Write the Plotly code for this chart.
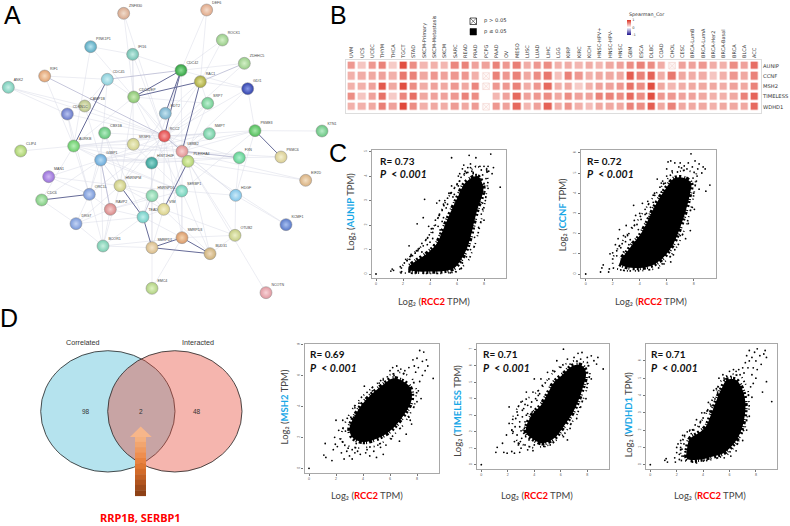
import plotly.graph_objects as go

W, H = 790, 526
def fx(p): return p / W
def fy(p): return 1 - p / H

# ---------- A: network ----------
NODE_NAMES = ["ZNF830","DEF6","ROCK1","PINK1P1","IFI16","CDC42","ZDHHC5","RIF1","CDC45","RAC1","GDI1","ANK2","CDC42EP","CAMP1B","CDKN1C","SRP7","EDT2","RCC2","PSME3","KTN1","NMPT","CBX1B","SRSF9","AURKB","CLIP4","LBRB2","HIST1H4F","PLEKHA4","FXN","PSMC6","G3BP1","MAN1","EIF2D","HNRNPM","SERBP1","HNRNPD1","HDGF","ORC1L","CDC6","RAVP2","VIM","TEAD","DRG7","KCMF1","OTUB2","BCOR1","SMRPD3","SMRPD1","BUD31","EMC4","NCOTN"]
NODE_X = [371,620,667,272,398,543,733,134,322,601,743,25,401,254,202,623,496,493,765,966,628,314,400,221,62,546,455,564,718,843,302,146,917,360,545,456,707,268,125,331,491,429,228,858,705,309,546,456,630,456,798]
NODE_Y = [40,30,120,140,163,211,190,228,238,245,266,262,291,318,342,310,340,408,392,393,401,399,433,438,453,454,489,484,473,471,480,530,541,557,573,587,586,583,600,628,628,651,671,674,706,738,713,743,761,865,878]
NODE_COLORS = ["#D8A88C","#E0A888","#98CC88","#58A8C0","#70C0B0","#30A040","#98CC88","#E0A070","#88CCD8","#A8A840","#3040A8","#78CCB8","#88C470","#B8C488","#6878C8","#70CC90","#78B0CC","#E04848","#50BC58","#68C480","#70CCA0","#60C478","#D0D088","#68CC68","#A8D070","#E09090","#38A098","#B0D070","#60D090","#D8CC90","#68A8D8","#9870D8","#D8B080","#CCCC80","#70D0B8","#80D0A8","#80C4E8","#7898D8","#80CC80","#D88888","#D8D088","#70CCC4","#7898D8","#5878C8","#C4CC80","#78CCB0","#D89868","#D8BC88","#CCB078","#B0D080","#E098A0"]
NODE_SHINE = ["#F0DCCC","#F4DCCC","#D4F0C8","#B8E4F0","#C4ECE4","#90E098","#D4F0C8","#F8DCC0","#CCF0F4","#E4E498","#8898E8","#C8F0E8","#CCECB8","#E8ECCC","#B8C4F0","#C0F0D4","#C4E4F0","#F8A0A0","#A8E8AC","#B8ECC8","#C0F0DC","#B4ECC4","#F0F0CC","#B8F0B8","#E0F4B8","#F8D0D0","#90D8D0","#E4F4B8","#B0F0D0","#F4F0D0","#B8DCF4","#D0B8F4","#F4E0C4","#F0F0C8","#C0F0E4","#CCF4DC","#CCEAF8","#C4D4F4","#C8F0C8","#F4CCCC","#F4F0CC","#C0F0EC","#C4D4F4","#A8C0F0","#ECF0C8","#C8F0E0","#F4D4B0","#F4E4CC","#F0DCC0","#E0F4C4","#F8D4D8"]
EDGES_THIN = ["ZNF830-CDC42EP","ZNF830-RCC2","DEF6-CDC42","DEF6-RAC1","ROCK1-CDC42","ROCK1-RAC1","PINK1P1-IFI16","PINK1P1-AURKB","PINK1P1-CDC42EP","IFI16-CDC42","IFI16-SRSF9","IFI16-RCC2","IFI16-CDC42EP","ZDHHC5-CDC42","ZDHHC5-RCC2","RIF1-AURKB","CDC45-CAMP1B","CDC45-G3BP1","CDC45-CDC42EP","GDI1-CDC42","GDI1-RAC1","GDI1-PSME3","GDI1-RCC2","GDI1-LBRB2","ANK2-RCC2","ANK2-CAMP1B","CDC42EP-RCC2","CDC42EP-AURKB","CDC42EP-SERBP1","CDC42EP-LBRB2","CDC42EP-HNRNPM","CAMP1B-RCC2","CAMP1B-G3BP1","CDKN1C-RCC2","CDKN1C-ORC1L","CDKN1C-AURKB","SRP7-VIM","SRP7-HIST1H4F","EDT2-HNRNPM","EDT2-SERBP1","RCC2-PSME3","RCC2-NMPT","RCC2-AURKB","RCC2-G3BP1","RCC2-HNRNPM","RCC2-SMRPD3","RCC2-VIM","RCC2-FXN","RCC2-ORC1L","RCC2-TEAD","RCC2-HDGF","RCC2-CBX1B","PSME3-KTN1","PSME3-HDGF","PSME3-G3BP1","PSME3-LBRB2","PSME3-SERBP1","NMPT-LBRB2","NMPT-AURKB","NMPT-G3BP1","CBX1B-TEAD","CBX1B-ORC1L","CBX1B-HNRNPM","SRSF9-SERBP1","SRSF9-AURKB","SRSF9-FXN","AURKB-CLIP4","AURKB-G3BP1","AURKB-LBRB2","AURKB-ORC1L","AURKB-SERBP1","AURKB-HIST1H4F","LBRB2-PSMC6","LBRB2-EIF2D","LBRB2-HDGF","LBRB2-SMRPD3","HIST1H4F-FXN","HIST1H4F-SMRPD1","HIST1H4F-HNRNPD1","HIST1H4F-G3BP1","PLEKHA4-EIF2D","PLEKHA4-BUD31","PLEKHA4-NCOTN","PLEKHA4-KCMF1","PLEKHA4-G3BP1","PLEKHA4-OTUB2","FXN-PSMC6","FXN-HDGF","FXN-G3BP1","G3BP1-HNRNPM","G3BP1-ORC1L","G3BP1-RAVP2","G3BP1-BCOR1","G3BP1-SERBP1","G3BP1-MAN1","G3BP1-TEAD","MAN1-ORC1L","MAN1-HNRNPM","HNRNPM-HNRNPD1","HNRNPM-SERBP1","HNRNPM-VIM","HNRNPM-DRG7","HNRNPM-BCOR1","SERBP1-HDGF","SERBP1-VIM","SERBP1-BUD31","SERBP1-RAVP2","SERBP1-SMRPD3","HNRNPD1-VIM","HNRNPD1-SMRPD1","HNRNPD1-RAVP2","HDGF-KCMF1","HDGF-OTUB2","ORC1L-RAVP2","ORC1L-DRG7","ORC1L-BCOR1","RAVP2-DRG7","RAVP2-TEAD","RAVP2-BCOR1","VIM-SMRPD1","VIM-BUD31","VIM-OTUB2","VIM-TEAD","TEAD-BCOR1","TEAD-DRG7","TEAD-SMRPD3","DRG7-BCOR1","BCOR1-SMRPD1","BCOR1-SMRPD3","SMRPD1-EMC4","SMRPD3-EMC4","SMRPD3-OTUB2","OTUB2-BUD31","CDC6-AURKB","CDC6-DRG7","CDC6-G3BP1","RIF1-CDC45","ANK2-CDKN1C","CDC42-LBRB2","RAC1-RCC2","RAC1-EDT2","RAC1-SRP7","SRP7-RCC2","SRP7-CDC42EP","CDC42-HIST1H4F"]
EDGES_MID = ["RIF1-RCC2","ZDHHC5-RAC1","RCC2-LBRB2","LBRB2-FXN","G3BP1-RAVP2","CDC42-CDC45","HNRNPD1-TEAD"]
EDGES_THICK = ["CDC45-AURKB","CDC42-CDC42EP","RAC1-CDC42EP","CDC42-EDT2","CDC42-RCC2","RAC1-LBRB2","CDC6-ORC1L","PSME3-PSMC6","HNRNPM-TEAD","TEAD-SMRPD1","SMRPD1-SMRPD3","SMRPD1-BUD31","SMRPD3-BUD31","PLEKHA4-VIM"]

# ---------- B: heatmap ----------
CANCERS = ["UVM","UCS","UCEC","THYM","THCA","TGCT","STAD","SKCM-Primary","SKCM-Metastasis","SKCM","SARC","READ","PRAD","PCPG","PAAD","OV","MESO","LUSC","LUAD","LIHC","LGG","KIRP","KIRC","KICH","HNSC-HPV+","HNSC-HPV-","HNSC","GBM","ESCA","DLBC","COAD","CHOL","CESC","BRCA-LumB","BRCA-LumA","BRCA-Her2","BRCA-Basal","BRCA","BLCA","ACC"]
GENES = ["AUNIP","CCNF","MSH2","TIMELESS","WDHD1"]
AUNIP_COR = [.5,.28,.5,.6,.25,.85,.55,.35,.38,.35,.58,.6,.45,.45,.6,.5,.62,.4,.5,.55,.38,.4,.35,.4,.35,.42,.45,.55,.6,.55,.4,.05,.45,.45,.5,.4,.38,.55,.45,.7]
CCNF_COR = [.38,.4,.42,.45,.38,.65,.6,.42,.5,.45,.5,.5,.38,.03,.6,.5,.6,.42,.55,.65,.3,.6,.5,.38,.42,.42,.42,.78,.6,.75,.4,.65,.42,.4,.4,.28,.38,.5,.42,.6]
MSH2_COR = [.38,.38,.45,.8,.42,.85,.55,.4,.45,.42,.5,.42,.58,.03,.5,.5,.6,.4,.5,.72,.38,.42,.25,.38,.45,.45,.5,.68,.55,.85,.42,.35,.4,.42,.42,.42,.4,.45,.42,.6]
TIMELESS_COR = [.55,.28,.45,.68,.25,.58,.7,.42,.45,.45,.5,.6,.55,0,.35,.45,.72,.45,.5,.55,.42,.55,.45,.45,.6,.6,.55,.72,.55,.85,.5,.5,.45,.45,.42,.38,.38,.42,.6,.75]
WDHD1_COR = [.38,.38,.42,.62,.45,.88,.55,.38,.42,.4,.48,.42,.48,.03,.5,.45,.72,.35,.45,.75,.4,.52,.38,.32,.42,.42,.42,.6,.55,.78,.42,.6,.42,.42,.42,.38,.42,.42,.42,.72]
NONSIG_COL = ["CHOL","PCPG","PCPG","PCPG"]
NONSIG_ROW = ["AUNIP","CCNF","MSH2","WDHD1"]

# ---------- C/D: scatter panels: outline of the solid cloud, outline of the loose rim, and single points ----------
AUNIP_ENV_X = [2.4,3,4,5,5.8,6.2,6.7,7,7.3,7.6,7.75,7.95,7.5,7,6.5,6.1,5.5,5,4.5,3.8,3,2.4]
AUNIP_ENV_Y = [.15,.1,.1,.12,.25,.5,1,1.5,2.2,2.8,3,3.55,4,3.9,3.65,3.2,2.5,1.85,1.25,.85,.55,.3]
AUNIP_OUT_X = [1.8,3,5,6.1,6.9,7.4,7.8,8.1,8.3,8.2,7.4,6.6,5.9,5.2,4.6,4,3.3,2.5,1.9,1.8]
AUNIP_OUT_Y = [.05,.02,.02,.1,.6,1.3,2.2,3,3.8,4.3,4.4,4.1,3.6,3,2.3,1.6,1.1,.7,.3,.05]
AUNIP_X = [0,1.1,1.2,1.3,1.8,1.9,2.1,2.3,2.5,2.7,2.9,3.1,3.3,3.4,2.45,3.05,3.5,3.6,3.9,3.95,4,4.2,4.3,4.4,4.5,4.6,4.75,4.7,4.9,5,5.1,5.2,5.4,5.6,5.6,5.8,6.1,6.1,6.2,6.2,6.4,6.5,6.55,6.9,6.8,7,7.1,7.2,7.4,7.4,7.7,7.8,7.9,8,8.2,8.3,8.35,8.5,8.6,8.7,8,7.95,7.9,7.8,8.1,8.3,9.2,7.6,7.3,7,6.7,6.4,6.2,5.9,5.5,8,7.7,2.2,2.6,3.2,3.5,3.7,4.1,4.4,4.7,5,5.3,5.5,5.8,6,6.3,6.6,6.8,7,7.2,7.5,7.9,8.05,8.15,5.7,5.3,4.9,4.6,4.2,3.8,3.4,3,2.6,2.3]
AUNIP_Y = [0,.12,.2,.15,.3,.1,.45,.55,.6,.75,.85,.95,.7,.9,1.15,2.05,2.3,3.05,1.95,1.6,1.3,1.7,1.2,2,2.9,2.3,1.8,3,2.6,2.3,3,2.7,3.3,3.6,4.75,3.5,4,3.6,3.8,4.1,4.3,4.45,4.1,4.85,4.35,4.5,4.2,4.15,4.05,4.75,4.4,4.25,4.05,4.4,4.25,4.4,4.2,4.9,4.1,4.35,3.7,3.3,2.9,2.45,3,3.5,3.55,1.9,1.5,1,.7,.45,.2,.1,.05,2.2,3.9,.6,.8,1.05,1.15,1.4,1.85,2.2,2.45,2.85,3.1,3.3,3.25,3.65,3.95,4.2,4.15,4.35,4.1,3.3,2.65,3.35,3.9,3.15,2.85,2.15,1.95,1.45,1.2,1.25,.95,.75,.55]

CCNF_ENV_X = [2.5,3,4,5,5.8,6.5,7,7.4,7.7,7.8,7.3,6.6,6,5.5,5,4.5,4,3.5,3,2.6]
CCNF_ENV_Y = [.5,.35,.3,.45,.85,1.5,2.3,3.1,3.9,4.5,4.75,4.75,4.3,3.8,3.2,2.5,1.9,1.5,1.05,.75]
CCNF_OUT_X = [2,3,4,5.2,6.2,6.9,7.5,7.9,8.1,8.2,7.4,6.4,5.7,5,4.3,3.6,2.9,2.4,2,2]
CCNF_OUT_Y = [.3,.15,.15,.25,.8,1.5,2.5,3.5,4.3,5,5.15,5,4.4,3.8,3.1,2.4,1.8,1.3,.8,.3]
CCNF_X = [0,1.1,1.2,1.3,1.7,1.75,1.8,2,2.2,2.4,2.5,2.6,2.8,2.95,3,3.2,3.4,3.6,3.55,3.7,4,4.2,4.4,4.6,4.8,5,5.1,5.3,5.5,5.7,6,6,6.1,6.3,6.6,6.9,7,7.3,7.6,7.8,7.9,8.1,8.3,8.4,8.6,8.7,8.85,8.2,8.4,8.9,9.2,8,7.9,7.6,7.4,7,6.6,6.5,6.3,5.8,5.4,2.6,3.3,2.3,2.7,3.1,3.3,3.8,4.1,4.5,4.7,5.2,5.6,5.9,6.4,6.8,7.1,7.5,7.95,8.05,8.25,7.75,5.6,5,4.4,3.9,3.2,2.8,2.3]
CCNF_Y = [0,.1,.3,.45,.1,.25,1,1.05,1.45,1.75,2.2,1.3,1.9,1.6,2.4,2,2.3,2.65,3.4,2.9,3,3.5,3.2,3.6,3.3,3.9,4,4.7,4.3,4.6,4.85,5.2,5.55,5.6,5.5,5.3,5.5,5.35,5.5,5.95,5.3,5.6,5.2,5.45,5,5.3,5.2,4.6,4.2,4.1,4.4,4,3.3,2.5,1.75,1.9,1.2,.95,.6,.5,.3,.2,.15,1.15,1.5,1.9,1.7,2.45,2.7,3,2.85,3.6,4.05,4.5,5.1,5.05,5.25,5.2,4.75,3.2,4.85,2.15,4.5,3.55,2.95,2.2,1.45,1.1,.9]

MSH2_ENV_X = [3.2,4,5,6,7,7.6,7.5,7,6.2,5.5,4.8,4,3.4,3,3.2]
MSH2_ENV_Y = [2,1.7,1.9,2.4,3.4,4.4,5.2,5.6,5.8,5.4,4.9,4.2,3.4,2.6,2]
MSH2_OUT_X = [2.6,3.6,4.8,6,7,7.8,8,7.6,6.8,5.8,4.8,3.9,3.1,2.6,2.3,2.6]
MSH2_OUT_Y = [1.5,1.3,1.4,1.9,2.8,4,5,5.9,6.2,6,5.3,4.6,3.7,2.8,2,1.5]
MSH2_X = [0,1.1,1.25,1.2,1.7,1.8,1.95,1.9,2,2.2,2.3,2.4,2.5,2.6,2.9,3,3.2,3.2,3.4,3.6,3.7,3.8,4.1,4.3,4.3,4.5,4.6,5,5.1,5.5,5.5,6,6.1,6.3,6.5,6.8,7,7.2,7.4,7.5,7.7,7.9,8,8.1,8.2,8.4,8.5,8.6,8.7,8.8,8.3,8.1,9.2,8.4,2.1,2.5,2.8,2.7,3.3,3.5,3.9,4.2,4.5,4.8,5.2,5.7,6.2,6.7,7.1,7.6,7.8,8.2,8,7.4,6.6,5.8,5.3,4.7,3.4,3.1]
MSH2_Y = [0,.85,.7,1.6,.5,1.2,1.55,2,3.1,2.45,1.9,1,3.1,.6,1.3,.8,.6,1.2,3.9,1.1,4.2,.9,5.3,4.9,1.2,.8,4.7,.7,1.5,.9,5.7,6.3,1.9,6,6.6,6.4,6.1,2.2,6.5,3.1,7,6.2,7.1,6.5,7.6,6.9,7.5,6.3,7,6.6,4.5,5,5.8,6,1.4,1.7,1.1,2.4,3.3,1.6,4,1,4.4,1.1,5.5,1.5,6.5,1.75,6.3,2.85,6.6,5.6,4.3,3.3,6.3,5.9,1.35,5,1,3.3]

TIMELESS_ENV_X = [3.8,4.6,5.5,6.2,7,7.6,7.9,7.6,6.9,6.2,5.5,5,4.5,3.9,3.4,3.4,3.8]
TIMELESS_ENV_Y = [1.6,1.3,1.6,2.3,3.3,4.5,5.6,6,6,5.5,5,4.3,3.6,3.1,2.3,1.9,1.6]
TIMELESS_OUT_X = [2.8,4,5.2,6.3,7.2,7.9,8.2,8,7,6,5.2,4.6,3.9,3,2.4,2.3,2.8]
TIMELESS_OUT_Y = [1.3,1,1.2,1.9,3,4.4,5.5,6.2,6.3,6,5.4,4.7,4.2,3.8,3,2,1.3]
TIMELESS_X = [0,1.1,1.2,1.7,1.95,2.3,2.5,2.9,3,3.5,3.9,1.6,1.9,2.1,2.1,2.4,2.5,2.6,2.7,2.8,2.9,3,3.05,3.1,3.2,3.2,3.3,3.4,3.4,3.5,3.6,3.7,3.8,3.9,4,4.1,4,4.3,4.5,4.6,4.8,5,5.1,5.2,5.4,5.7,6,6.2,6.5,6.7,7,7.3,7.5,7.6,8,8.1,8.3,8.5,8.7,8.8,8.3,8,9.2,7.9,7.5,7.2,6.7,6.2,6.5,2.7,2.9,3.1,3.3,3.35,3.55,3.7,3.85,2.55,2.75,3,3.25,3.5,3.75,4.2,4.4,3.3,3.15,2.95]
TIMELESS_Y = [0,.75,1.05,.75,.7,.8,.7,.75,1,.9,.85,1.3,1.8,2.5,3.5,2,1.4,2.8,3.2,1.2,2.3,3.8,1.6,2.9,1.9,3.4,1.2,4.4,3,3.6,1.5,2.8,3.8,4.4,1.2,4,5.2,4.2,5.2,4.8,1.1,5.6,5.2,1.2,5.7,6.3,5.9,7,6.4,6.1,6.5,6.75,6.4,6.8,6.5,6,6.6,6.3,6.1,6.5,5.2,4.9,5.8,4,3.5,2.8,2.2,1.7,1.5,1.8,2.6,3.3,2.6,1.7,2.5,1.9,3.2,2.3,3,2.05,2.2,3.1,3.5,3.9,4.3,3.65,2.1,1.4]

WDHD1_ENV_X = [2.8,3.8,4.6,5.5,6.2,6.8,7.15,7.2,7,6.5,5.8,5.4,5,4.6,4.2,3.6,3,2.8,2.8]
WDHD1_ENV_Y = [.35,.3,.45,.65,1.1,1.8,2.8,3.6,4.3,4.9,4.9,4.4,3.7,2.9,2.2,1.8,1.5,1,.35]
WDHD1_OUT_X = [2.3,3.5,4.7,5.8,6.6,7.2,7.5,7.4,6.9,6,5.3,4.7,4.2,3.5,2.8,2.3,2.3]
WDHD1_OUT_Y = [.25,.15,.3,.55,1.2,2.2,3.3,4.4,5.1,5.3,4.8,3.8,2.9,2.1,1.9,1.2,.25]
WDHD1_X = [0,1.1,1.2,1.3,1.9,2,1.85,2,2.2,2.1,2.3,2.4,2.5,2.6,2.8,3,3.3,3.5,3.8,3.9,4,4.3,4.4,4.6,4.8,5,5.2,5.5,5.8,6,6.1,6.5,6.8,7,7.2,7.3,7.5,7.5,7.7,7.8,7.9,8,8.1,8.1,8.3,8.4,8.6,8.7,8.8,8.8,8.5,9.2,7.6,7.7,7.5,7.3,7,6.5,6.1,5.6,3.2,3.5,2.2,2.4,2.55,2.65,2.3,2.45,3.1,3.4,3.7,4.1,4.5,4.9,5.1,5.6,6.3,6.7,7.1,7.4,7.7,8,7.8]
WDHD1_Y = [0,.25,.35,.15,.15,.7,.4,1,.3,1.2,1.4,.9,.5,1.7,1.9,2,2,2.6,2.5,3,2.7,3.1,3.6,3.4,4.3,4.4,5,5.2,5.1,5.4,5.1,5.4,5.2,5.6,5.9,6.3,6,6.6,6.2,5.6,6.5,6,5.5,6.7,6.3,5.8,6.4,6.6,6.2,4.8,4.2,3.65,4.5,3.9,2.8,2,1.4,.8,.5,.4,.15,.1,.6,.5,1.2,.75,1,1.7,1.8,2.3,2.2,3,3.1,3.8,4.2,4.9,5.5,5.5,5.3,5.6,5.2,5,4.7]

VENN_LABELS = ["Correlated", "Interacted"]
VENN_COUNTS = [98, 2, 48]

fig = go.Figure()
annots, shapes = [], []

def text(x, y, s, size, color="#222", family="Liberation Sans", angle=0, xanchor="center"):
    annots.append(dict(x=fx(x), y=fy(y), xref="paper", yref="paper", text=s, showarrow=False,
                       font=dict(size=size, color=color, family=family), textangle=angle,
                       xanchor=xanchor, yanchor="middle"))

# ---- network ----
idx = {n: i for i, n in enumerate(NODE_NAMES)}
def edge_xy(edges):
    xs, ys = [], []
    for e in edges:
        a, b = e.split("-")
        xs += [NODE_X[idx[a]], NODE_X[idx[b]], None]
        ys += [NODE_Y[idx[a]], NODE_Y[idx[b]], None]
    return xs, ys
for edges, col, w in [(EDGES_THIN, "#D9DAE6", 0.5), (EDGES_MID, "#ADAFCB", 0.7), (EDGES_THICK, "#666B98", 1.0)]:
    ex, ey = edge_xy(edges)
    fig.add_trace(go.Scatter(x=ex, y=ey, mode="lines", line=dict(color=col, width=w),
                             hoverinfo="skip", showlegend=False, xaxis="x", yaxis="y"))
fig.add_trace(go.Scatter(x=NODE_X, y=NODE_Y, mode="markers",
                         marker=dict(size=12, color=NODE_COLORS, line=dict(color="#8A8A8A", width=0.5),
                                     gradient=dict(type="radial", color=NODE_SHINE)),
                         showlegend=False, xaxis="x", yaxis="y", cliponaxis=False))
fig.add_trace(go.Scatter(x=NODE_X, y=NODE_Y, mode="markers+text", text=NODE_NAMES,
                         textposition="top right", textfont=dict(size=3.6, color="#444", family="Liberation Sans"),
                         marker=dict(size=7, opacity=0), hoverinfo="skip",
                         showlegend=False, xaxis="x", yaxis="y", cliponaxis=False))

# ---- heatmap ----
HM_L, HM_R, HM_T, HM_B = 346, 761, 60, 113
z = [AUNIP_COR, CCNF_COR, MSH2_COR, TIMELESS_COR, WDHD1_COR]
fig.add_trace(go.Heatmap(z=z, x=list(range(len(CANCERS))), y=list(range(len(GENES))),
                         zmin=-1, zmax=1, xgap=2.8, ygap=2.8,
                         colorscale=[[0, "#1A0F8C"], [0.5, "#FFFFFF"], [1, "#DC2F20"]],
                         xaxis="x2", yaxis="y2", hoverongaps=False,
                         colorbar=dict(thickness=4, lenmode="pixels", len=15, x=fx(627), xanchor="left",
                                       y=fy(27.5), yanchor="middle", outlinewidth=0, ticklen=0,
                                       tickvals=[-1, 0, 1], ticktext=["-1", "0", "1"], ypad=0, xpad=0,
                                       tickfont=dict(size=3.6, color="#444", family="DejaVu Sans"))))
fig.add_trace(go.Scatter(x=[CANCERS.index(c) for c in NONSIG_COL], y=[GENES.index(g) for g in NONSIG_ROW],
                         mode="markers", marker=dict(symbol="square-x-open", size=6.5, color="#F3D4CE", line=dict(width=0.6)),
                         showlegend=False, xaxis="x2", yaxis="y2", hoverinfo="skip"))
text(646, 15, "Spearman_Cor", 4.8, "#333", "DejaVu Sans")
text(482, 21, "p &gt; 0.05", 5.2, "#333", "DejaVu Sans", xanchor="left")
text(482, 31.5, "p ≤ 0.05", 5.2, "#333", "DejaVu Sans", xanchor="left")
for sh in [dict(type="rect", x0=470, x1=476.5, y0=18, y1=24.5, line=dict(color="#111", width=0.7)),
           dict(type="line", x0=470, x1=476.5, y0=18, y1=24.5, line=dict(color="#111", width=0.5)),
           dict(type="line", x0=470, x1=476.5, y0=24.5, y1=18, line=dict(color="#111", width=0.5)),
           dict(type="rect", x0=470, x1=476.5, y0=28.5, y1=35, fillcolor="#000", line=dict(color="#000", width=0.5))]:
    s = dict(sh)
    s.update(xref="paper", yref="paper", x0=fx(sh["x0"]), x1=fx(sh["x1"]), y0=fy(sh["y0"]), y1=fy(sh["y1"]))
    shapes.append(s)

# ---- scatter panels ----
panels = [
    ("3", "4", AUNIP_ENV_X, AUNIP_ENV_Y, AUNIP_OUT_X, AUNIP_OUT_Y, AUNIP_X, AUNIP_Y, (372, 506, 149.5, 278), (376, 13.5), (274, 24.47), [0,1,2,3,4,5], "AUNIP", "R= 0.73", 350.7, 211.7, 434, 301, 6, 11.5, 24.5),
    ("5", "6", CCNF_ENV_X, CCNF_ENV_Y, CCNF_OUT_X, CCNF_OUT_Y, CCNF_X, CCNF_Y, (581, 716, 149.5, 278), (585.7, 13.5), (274, 20.2), [0,1,2,3,4,5,6], "CCNF", "R= 0.72", 562.3, 215, 650.7, 301, 4, 11.5, 24.5),
    ("7", "8", MSH2_ENV_X, MSH2_ENV_Y, MSH2_OUT_X, MSH2_OUT_Y, MSH2_X, MSH2_Y, (304.5, 438.5, 344, 473), (309, 13.5), (468.3, 15.5), [0,2,4,6,8], "MSH2", "R= 0.69", 284.7, 406.7, 366.7, 495.7, 3.5, 10, 23.5),
    ("9", "10", TIMELESS_ENV_X, TIMELESS_ENV_Y, TIMELESS_OUT_X, TIMELESS_OUT_Y, TIMELESS_X, TIMELESS_Y, (477, 608.5, 344, 469), (481.3, 13.25), (464.7, 16.5), [0,1,2,3,4,5,6,7], "TIMELESS", "R= 0.71", 456.7, 411, 536.7, 495.7, 4, 10, 23.5),
    ("11", "12", WDHD1_ENV_X, WDHD1_ENV_Y, WDHD1_OUT_X, WDHD1_OUT_Y, WDHD1_X, WDHD1_Y, (646, 777, 344, 469), (650.3, 13.2), (464.7, 17.3), [0,1,2,3,4,5,6], "WDHD1", "R= 0.71", 628.3, 414, 710, 495.7, 3, 10, 23.5),
]
axes = {}
for xn, yn, ex, ey, ox, oy, px_, py_, (l, r, t, b), (x0, sx), (y0, sy), yt, gene, rtxt, ylx, yly, xlx, xly, dx, r_dy, p_dy in panels:
    xr = [(l - x0) / sx, (r - x0) / sx]
    yr = [(y0 - b) / sy, (y0 - t) / sy]
    common = dict(showgrid=False, zeroline=False, showline=True, linecolor="#A8A8A8", linewidth=1.2, mirror=True,
                  ticks="outside", ticklen=2, tickwidth=0.5, tickcolor="#777",
                  tickfont=dict(size=3.6, color="#555", family="Liberation Sans"))
    axes["xaxis" + xn] = dict(domain=[fx(l), fx(r)], range=xr, anchor="y" + yn, tickvals=[0, 2, 4, 6, 8], **common)
    axes["yaxis" + yn] = dict(domain=[fy(b), fy(t)], range=yr, anchor="x" + xn, tickvals=yt, tickangle=-90, **common)
    fig.add_trace(go.Scatter(x=ox, y=oy, mode="lines",
                             line=dict(color="#000", width=1.7, dash="1.5px,3px,1px,5px,2px,2px,1px,7px,1px,2px"),
                             hoverinfo="skip", showlegend=False, xaxis="x" + xn, yaxis="y" + yn))
    fig.add_trace(go.Scatter(x=ex, y=ey, mode="lines", fill="toself", fillcolor="#000",
                             line=dict(color="#000", width=4.5, dash="2px,1px,1px,2px,3px,1px,1px,3px,2px,2px", shape="spline"),
                             hoverinfo="skip", showlegend=False, xaxis="x" + xn, yaxis="y" + yn))
    fig.add_trace(go.Scatter(x=px_, y=py_, mode="markers", marker=dict(size=1.8, color="#000"),
                             showlegend=False, xaxis="x" + xn, yaxis="y" + yn))
    text(l + dx, t + r_dy, "<b>" + rtxt + "</b>", 10, "#111", "Lato", xanchor="left")
    text(l + dx, t + p_dy, "<b><i>P</i>  &lt; <i>0.001</i></b>", 10.5, "#111", "Lato", xanchor="left")
    text(ylx, yly, 'Log₂ (<span style="color:#19A7E6"><b>' + gene + '</b></span> TPM)', 9.5, "#444", "Lato", angle=-90)
    text(xlx, xly, 'Log₂ (<span style="color:#F00"><b>RCC2</b></span> TPM)', 9.5, "#444", "Lato")

# ---- venn ----
for l, r, fill in [(40.7, 175, "#B5E3EE"), (107.7, 242, "rgba(230,70,52,0.4)")]:
    shapes.append(dict(type="circle", xref="paper", yref="paper", x0=fx(l), x1=fx(r), y0=fy(350.7), y1=fy(472),
                       fillcolor=fill, line=dict(color="#222", width=0.8)))
text(82.5, 342.7, VENN_LABELS[0], 7.2, "#333")
text(198, 342.7, VENN_LABELS[1], 7.2, "#333")
for x, c in zip([86, 141, 196.6], VENN_COUNTS):
    text(x, 411, str(c), 6.5, "#333")

# gradient arrow
ARROW_STOPS = ["#F5B07E", "#F2A56F", "#F09A60", "#EE8E50", "#E98240", "#E07733", "#D26B2A", "#C26024", "#B0541E", "#9E4A1A", "#8E4116"]
top, bot = 436.5, 495.7
step = (bot - top) / len(ARROW_STOPS)
for i, c in enumerate(ARROW_STOPS):
    shapes.append(dict(type="rect", xref="paper", yref="paper", x0=fx(135), x1=fx(146), y0=fy(top + i * step),
                       y1=fy(top + (i + 1) * step + 0.4), fillcolor=c, line=dict(width=0)))
shapes.append(dict(type="path", xref="paper", yref="paper", fillcolor="#F7B68A", line=dict(width=0),
                   path=f"M {fx(130)} {fy(437)} L {fx(140.7)} {fy(426.5)} L {fx(151.7)} {fy(437)} Z"))
text(140.7, 517.7, "<b>RRP1B, SERBP1</b>", 11, "#F00", "Noto Sans")

# panel letters
for s, x, y in [("A", 12, 14.5), ("B", 338, 14.5), ("C", 338, 153), ("D", 8.5, 317.5)]:
    text(x, y, s, 25, "#000", "Liberation Sans")

fig.update_layout(
    width=W, height=H, margin=dict(l=0, r=0, t=0, b=0), paper_bgcolor="#FFF", plot_bgcolor="rgba(0,0,0,0)",
    showlegend=False, annotations=annots, shapes=shapes,
    xaxis=dict(domain=[0, 330 / W], range=[0, 990], visible=False),
    yaxis=dict(domain=[fy(310), 1], range=[930, 0], visible=False),
    xaxis2=dict(domain=[fx(HM_L), fx(HM_R)], range=[-0.56, 39.6], side="top", anchor="y2", showgrid=False, zeroline=False,
                tickvals=list(range(len(CANCERS))), ticktext=CANCERS, tickangle=-90, ticks="", showline=True, mirror=True,
                linecolor="#DDD", linewidth=1, tickfont=dict(size=5, color="#333", family="DejaVu Sans")),
    yaxis2=dict(domain=[fy(HM_B), fy(HM_T)], range=[4.6, -0.56], side="right", anchor="x2", showgrid=False, zeroline=False,
                tickvals=list(range(len(GENES))), ticktext=GENES, ticks="", showline=True, mirror=True,
                linecolor="#DDD", linewidth=1, tickfont=dict(size=5.2, color="#333", family="DejaVu Sans")),
    **axes,
)
fig.write_html("out.html", config=dict(displayModeBar=False),
               post_script="document.body.style.margin='0';document.documentElement.style.overflow='hidden';")
